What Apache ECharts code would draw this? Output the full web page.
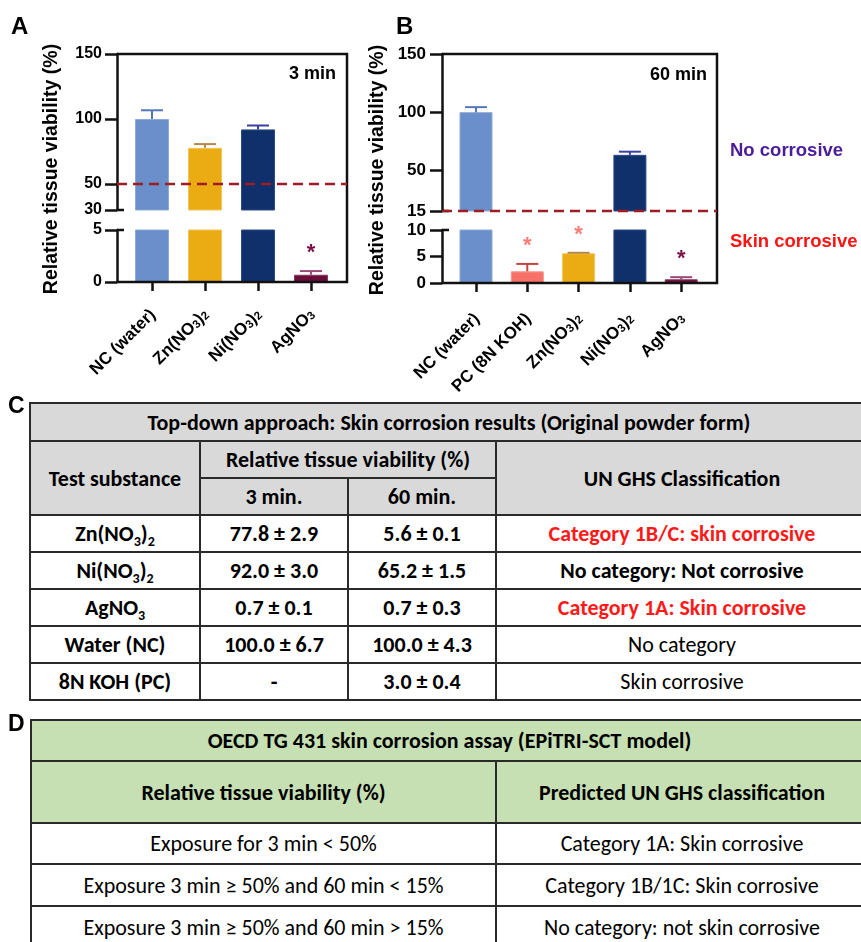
<!DOCTYPE html>
<html><head><meta charset="utf-8">
<script src="https://cdn.jsdelivr.net/npm/echarts@6/dist/echarts.min.js"></script>
<style>
html,body{margin:0;padding:0;background:#fff;width:861px;height:942px;overflow:hidden;position:relative;}
#chart{position:absolute;left:0;top:0;width:861px;height:400px;}
.cell{position:absolute;box-sizing:border-box;border:2px solid #2a2a2a;display:flex;align-items:center;justify-content:center;text-align:center;white-space:nowrap;
 font-family:'Liberation Sans Narrow','Carlito','Liberation Sans',sans-serif;font-size:22px;color:#000;}
.cell span{display:inline-block;}
.cell sub{font-size:14px;vertical-align:baseline;position:relative;top:5px;line-height:0;}
.plabel{position:absolute;font-family:'Liberation Sans',Arial,sans-serif;font-weight:bold;font-size:23px;line-height:23px;}
</style></head><body>
<div id="chart"></div>
<div class="plabel" style="left:8px;top:394px;">C</div>
<div class="plabel" style="left:8px;top:712px;">D</div>
<div id="tables"></div>
<script>
// ---------- chart data ----------
const catA = ['NC (water)', 'Zn(NO₃)₂', 'Ni(NO₃)₂', 'AgNO₃'];
const valA = [100, 77.8, 92.0, 0.7];
const errA = [6.7, 2.9, 3.0, 0.35];
const sigA = [0, 0, 0, 1];
const catB = ['NC (water)', 'PC (8N KOH)', 'Zn(NO₃)₂', 'Ni(NO₃)₂', 'AgNO₃'];
const valB = [100, 2.2, 5.6, 63.3, 0.7];
const errB = [4.3, 1.4, 0.1, 2.7, 0.4];
const sigB = [0, 1, 1, 0, 1];
const upperTicksA = [30, 50, 100, 150];
const lowerTicksA = [0, 5];
const upperTicksB = [15, 50, 100, 150];
const lowerTicksB = [0, 5, 10];
const cutoffA = 50;
const cutoffB = 15;

// ---------- table data ----------
const tcTitle = 'Top-down approach: Skin corrosion results (Original powder form)';
const tcHead = ['Test substance', 'Relative tissue viability (%)', '3 min.', '60 min.', 'UN GHS Classification'];
const tcSubst = ['Zn(NO₃)₂', 'Ni(NO₃)₂', 'AgNO₃', 'Water (NC)', '8N KOH (PC)'];
const tc3 = ['77.8 ± 2.9', '92.0 ± 3.0', '0.7 ± 0.1', '100.0 ± 6.7', '-'];
const tc60 = ['5.6 ± 0.1', '65.2 ± 1.5', '0.7 ± 0.3', '100.0 ± 4.3', '3.0 ± 0.4'];
const tcClass = ['Category 1B/C: skin corrosive', 'No category: Not corrosive', 'Category 1A: Skin corrosive', 'No category', 'Skin corrosive'];
const tcClassCorrosive = [1, 0, 1, 0, 0];
const tcClassBold = [1, 1, 1, 0, 0];
const tdTitle = 'OECD TG 431 skin corrosion assay (EPiTRI-SCT model)';
const tdHead = ['Relative tissue viability (%)', 'Predicted UN GHS classification'];
const tdCriteria = ['Exposure for 3 min < 50%', 'Exposure 3 min ≥ 50% and 60 min < 15%', 'Exposure 3 min ≥ 50% and 60 min > 15%'];
const tdPred = ['Category 1A: Skin corrosive', 'Category 1B/1C: Skin corrosive', 'No category: not skin corrosive'];

// ---------- styles ----------
const barColor = {'NC (water)':'#6b8fcb','PC (8N KOH)':'#f7716a','Zn(NO₃)₂':'#ebab12','Ni(NO₃)₂':'#10306b','AgNO₃':'#6b0e3a'};
const barEdge  = {'NC (water)':'#8ea9da','PC (8N KOH)':'#fb918b','Zn(NO₃)₂':'#f3c455','Ni(NO₃)₂':'#2c4a86','AgNO₃':'#8a3a60'};
const errColor = {'NC (water)':'#5576b8','PC (8N KOH)':'#c6423e','Zn(NO₃)₂':'#b5874c','Ni(NO₃)₂':'#3a3fa0','AgNO₃':'#9b4a75'};
const starColor= {'NC (water)':'#000','PC (8N KOH)':'#f57c78','Zn(NO₃)₂':'#f57c78','Ni(NO₃)₂':'#000','AgNO₃':'#7b1146'};
const FONT = "'Liberation Sans', Arial, sans-serif";
const AX = '#111';

function richName(s) {
  return s.split(/([₂₃])/).filter(t => t).map(t => t === '₂' ? '{s|2}' : t === '₃' ? '{s|3}' : '{n|' + t + '}').join('');
}

function makeX(gi, cats, show, margin) {
  return {
    type: 'category', gridIndex: gi, data: cats, boundaryGap: true,
    axisLine: {show: false},
    axisTick: {show: show, alignWithLabel: true, length: 9, lineStyle: {color: AX, width: 2.5}},
    axisLabel: show ? {
      show: true, interval: 0, rotate: 45, margin: margin, formatter: richName,
      rich: {
        n: {fontFamily: FONT, fontWeight: 'bold', fontSize: 17, color: '#000', verticalAlign: 'bottom', lineHeight: 20},
        s: {fontFamily: FONT, fontWeight: 'bold', fontSize: 11.5, color: '#000', verticalAlign: 'bottom', lineHeight: 6}
      }
    } : {show: false},
    splitLine: {show: false}
  };
}
function makeY(gi, min, max, ticks, offset, margin, fs) {
  return {
    type: 'value', gridIndex: gi, min: min, max: max, offset: offset,
    axisLine: {show: true, lineStyle: {color: AX, width: 2.5}},
    axisTick: {show: true, length: 12, lineStyle: {color: AX, width: 2.5}, customValues: ticks},
    axisLabel: {show: true, customValues: ticks, margin: margin, fontFamily: FONT, fontWeight: 'bold', fontSize: fs, color: '#000'},
    splitLine: {show: false}
  };
}
function barSeries(gi, cats, vals, bw) {
  return {
    type: 'bar', xAxisIndex: gi, yAxisIndex: gi, barWidth: bw, clip: true, z: 2,
    data: vals.map((v, i) => ({value: v, itemStyle: {color: barColor[cats[i]], borderColor: barEdge[cats[i]], borderWidth: 1}}))
  };
}
function errSeries(gi, cats, vals, errs, sig, min, max) {
  return {
    type: 'custom', coordinateSystem: 'cartesian2d', xAxisIndex: gi, yAxisIndex: gi, z: 5, clip: false,
    data: vals.map((v, i) => [i, v + errs[i]]),
    renderItem: function (params, api) {
      const i = params.dataIndex;
      const v = vals[i], top = v + errs[i];
      if (v < min || top > max) return null;
      const p0 = api.coord([i, v]);
      const p1 = api.coord([i, top]);
      const c = errColor[cats[i]];
      const ch = [
        {type: 'line', shape: {x1: p0[0], y1: p0[1], x2: p1[0], y2: p1[1]}, style: {stroke: c, lineWidth: 2}},
        {type: 'line', shape: {x1: p1[0] - 11, y1: p1[1], x2: p1[0] + 11, y2: p1[1]}, style: {stroke: c, lineWidth: 2}}
      ];
      if (sig[i]) {
        ch.push({type: 'text', x: p1[0], y: p1[1] - 18,
          style: {text: '*', fontFamily: FONT, fontWeight: 'bold', fontSize: 22, fill: starColor[cats[i]], align: 'center', verticalAlign: 'middle'}});
      }
      return {type: 'group', children: ch};
    }
  };
}

const chart = echarts.init(document.getElementById('chart'), null, {renderer: 'canvas'});
const gridBase = {containLabel: false, outerBoundsMode: 'none', show: false};
const option = {
  animation: false,
  backgroundColor: '#fff',
  grid: [
    Object.assign({left: 125.5, width: 212, top: 54, height: 156}, gridBase),
    Object.assign({left: 125.5, width: 212, top: 230, height: 52}, gridBase),
    Object.assign({left: 450.35, width: 256.5, top: 54, height: 157}, gridBase),
    Object.assign({left: 450.35, width: 256.5, top: 230, height: 53}, gridBase)
  ],
  xAxis: [makeX(0, catA, false, 29), makeX(1, catA, true, 29), makeX(2, catB, false, 32), makeX(3, catB, true, 32)],
  yAxis: [
    makeY(0, 30, 150, upperTicksA, 8.5, 15, 16),
    makeY(1, 0, 5, lowerTicksA, 8.5, 15, 16),
    makeY(2, 15, 150, upperTicksB, 8.35, 16, 17),
    makeY(3, 0, 10, lowerTicksB, 8.35, 16, 17)
  ],
  series: [
    barSeries(0, catA, valA, 34), barSeries(1, catA, valA, 34),
    barSeries(2, catB, valB, 33), barSeries(3, catB, valB, 33),
    errSeries(0, catA, valA, errA, sigA, 30, 150), errSeries(1, catA, valA, errA, sigA, 0, 5),
    errSeries(2, catB, valB, errB, sigB, 15, 150), errSeries(3, catB, valB, errB, sigB, 0, 10)
  ]
};
chart.setOption(option);

// frames, cutoff lines and annotations (positions from the axes)
const py = (ai, v) => chart.convertToPixel({yAxisIndex: ai}, v);
const PA = {x0: 117, x1: 347}, PB = {x0: 442, x1: 717};
function frame(P, up, lo, upMin, loMax, cutoff, upMax) {
  const top = py(up, upMax), bot = py(lo, 0);
  return [
    {type: 'polyline', shape: {points: [[P.x0, top], [P.x1, top], [P.x1, bot], [P.x0, bot]]}, style: {stroke: AX, lineWidth: 2.5, fill: null}, z: 10},
    {type: 'line', shape: {x1: P.x0, y1: py(up, upMin), x2: P.x0 + 7, y2: py(up, upMin)}, style: {stroke: AX, lineWidth: 2.5}, z: 10},
    {type: 'line', shape: {x1: P.x0, y1: py(lo, loMax), x2: P.x0 + 7, y2: py(lo, loMax)}, style: {stroke: AX, lineWidth: 2.5}, z: 10},
    {type: 'line', shape: {x1: P.x0, y1: py(up, cutoff), x2: P.x1, y2: py(up, cutoff)}, style: {stroke: '#9e1c22', lineWidth: 2.5, lineDash: [10, 6]}, z: 11}
  ];
}
function txt(x, y, t, size, color, align, rot) {
  return {type: 'text', x: x, y: y, rotation: rot || 0, z: 12,
    style: {text: t, fontFamily: FONT, fontWeight: 'bold', fontSize: size, fill: color, align: align || 'left', verticalAlign: 'middle'}};
}
const g = [].concat(
  frame(PA, 0, 1, 30, 5, cutoffA, 150),
  frame(PB, 2, 3, 15, 10, cutoffB, 150),
  [
    txt(11, 27, 'A', 24, '#000'),
    txt(396, 27, 'B', 24, '#000'),
    txt(336, 74, '3 min', 18, '#000', 'right'),
    txt(707, 75, '60 min', 18, '#000', 'right'),
    txt(730, 151, 'No corrosive', 18.5, '#4b1d9b'),
    txt(730, 242, 'Skin corrosive', 18.5, '#ff1414'),
    txt(52, 169, 'Relative tissue viability (%)', 19.5, '#000', 'center', Math.PI / 2),
    txt(378, 170, 'Relative tissue viability (%)', 19.5, '#000', 'center', Math.PI / 2)
  ]
);
chart.setOption({graphic: {elements: g}});

// ---------- tables ----------
const host = document.getElementById('tables');
function sub(s) { return s.replace(/₂/g, '<sub>2</sub>').replace(/₃/g, '<sub>3</sub>'); }
function cell(x0, x1, y0, y1, html, opts) {
  opts = opts || {};
  const d = document.createElement('div');
  d.className = 'cell';
  d.style.left = (x0 - 1) + 'px'; d.style.top = (y0 - 1) + 'px';
  d.style.width = (x1 - x0 + 2) + 'px'; d.style.height = (y1 - y0 + 2) + 'px';
  if (opts.bg) d.style.background = opts.bg;
  if (opts.bold) d.style.fontWeight = 'bold';
  if (opts.color) d.style.color = opts.color;
  d.innerHTML = '<span>' + html + '</span>';
  host.appendChild(d);
}
const GRAY = '#d9d9d9', GREEN = '#c6e0b4';
const CX = [30, 200, 348, 496, 868];
const CY = [403, 441, 478, 515, 552, 589, 626, 663, 700];
cell(CX[0], CX[4], CY[0], CY[1], tcTitle, {bg: GRAY, bold: 1});
cell(CX[0], CX[1], CY[1], CY[3], tcHead[0], {bg: GRAY, bold: 1});
cell(CX[1], CX[3], CY[1], CY[2], tcHead[1], {bg: GRAY, bold: 1});
cell(CX[1], CX[2], CY[2], CY[3], tcHead[2], {bg: GRAY, bold: 1});
cell(CX[2], CX[3], CY[2], CY[3], tcHead[3], {bg: GRAY, bold: 1});
cell(CX[3], CX[4], CY[1], CY[3], tcHead[4], {bg: GRAY, bold: 1});
for (let r = 0; r < tcSubst.length; r++) {
  const y0 = CY[3 + r], y1 = CY[4 + r];
  cell(CX[0], CX[1], y0, y1, sub(tcSubst[r]), {bold: 1});
  cell(CX[1], CX[2], y0, y1, tc3[r], {bold: 1});
  cell(CX[2], CX[3], y0, y1, tc60[r], {bold: 1});
  cell(CX[3], CX[4], y0, y1, tcClass[r], {bold: tcClassBold[r], color: tcClassCorrosive[r] ? '#ff1a1a' : '#000'});
}
const DX = [31, 496, 868];
const DY = [720, 761, 823, 864, 906, 948];
cell(DX[0], DX[2], DY[0], DY[1], tdTitle, {bg: GREEN, bold: 1});
cell(DX[0], DX[1], DY[1], DY[2], tdHead[0], {bg: GREEN, bold: 1});
cell(DX[1], DX[2], DY[1], DY[2], tdHead[1], {bg: GREEN, bold: 1});
for (let r = 0; r < tdCriteria.length; r++) {
  cell(DX[0], DX[1], DY[2 + r], DY[3 + r], tdCriteria[r]);
  cell(DX[1], DX[2], DY[2 + r], DY[3 + r], tdPred[r]);
}
</script>
</body></html>
